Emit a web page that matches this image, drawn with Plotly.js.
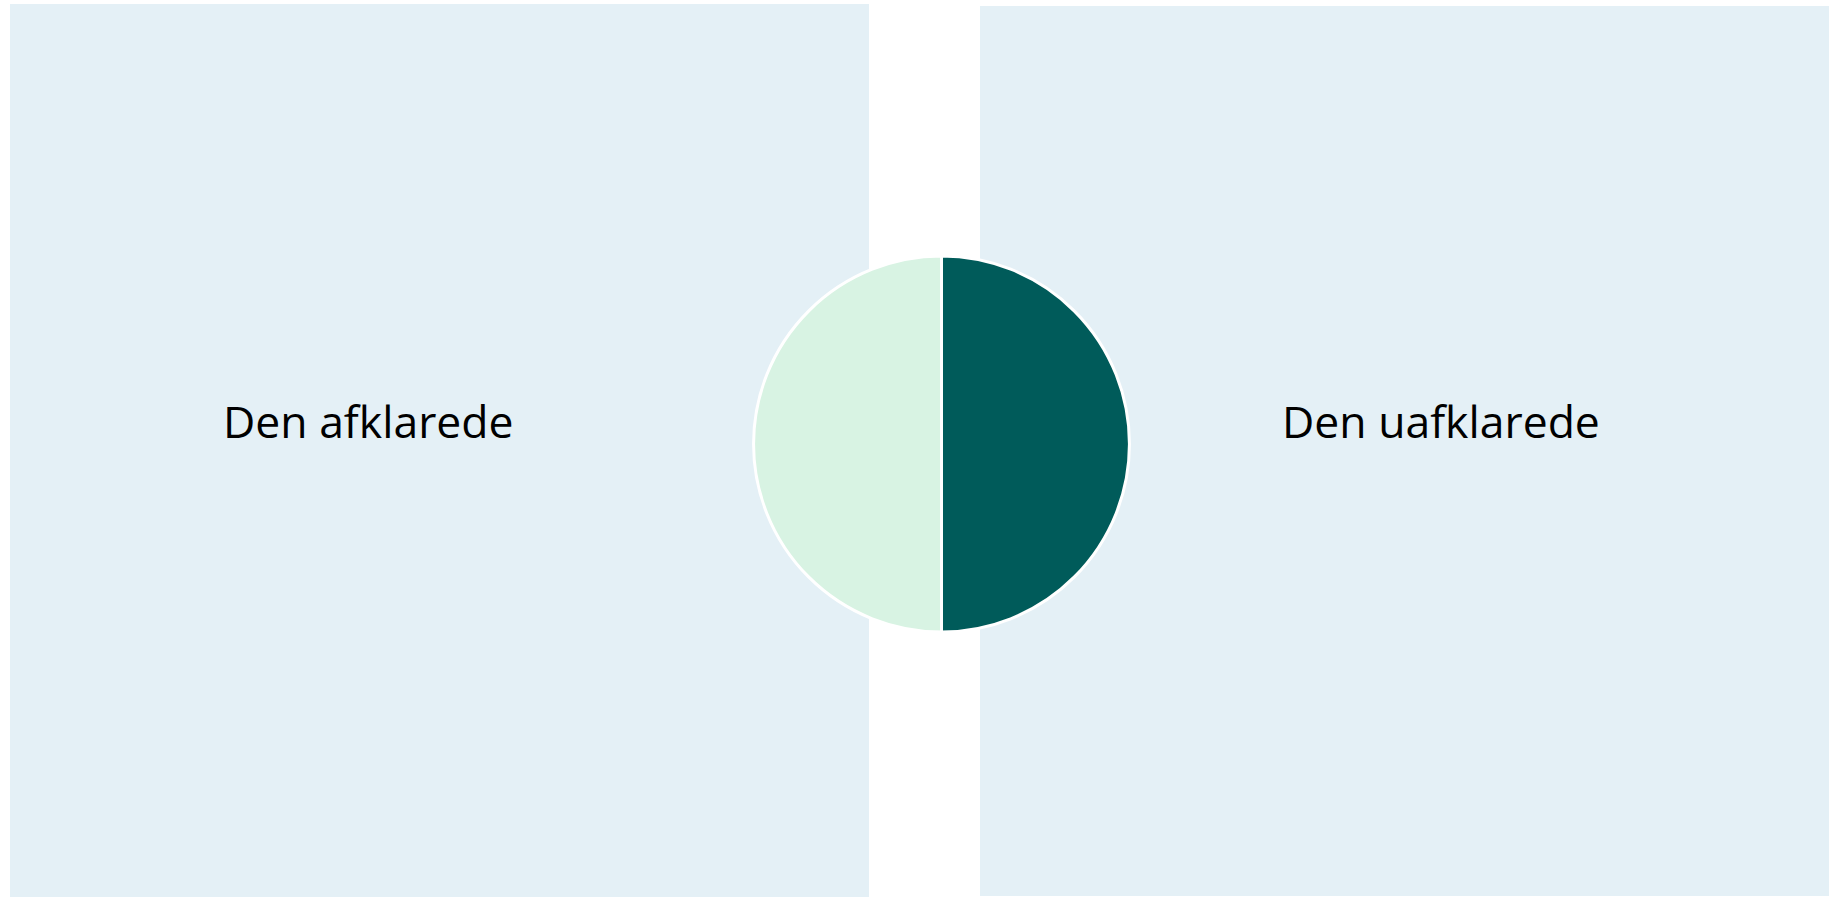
<!DOCTYPE html>
<html>
<head>
<meta charset="utf-8">
<script src="https://cdn.plot.ly/plotly-3.0.1.min.js"></script>
<style>html,body{margin:0;padding:0;background:#fff;}#chart{width:1829px;height:897px;}</style>
</head>
<body>
<div id="chart"></div>
<script>
const labels = ["Den uafklarede", "Den afklarede"];
const values = [50, 50];
const sliceColors = ["#005B5A", "#D8F3E3"];
const panelColor = "#E4F0F6";

const W = 1829, H = 897;
const px = v => v / W;
const py = v => 1 - v / H;

const cx = 941.5, cy = 444, r = 188;

const data = [{
  type: "pie",
  labels: labels,
  values: values,
  sort: false,
  direction: "clockwise",
  rotation: 0,
  textinfo: "none",
  hoverinfo: "label+percent",
  marker: { colors: sliceColors, line: { color: "#ffffff", width: 3 } },
  domain: { x: [px(cx - r), px(cx + r)], y: [py(cy + r), py(cy - r)] },
  showlegend: false
}];

const layout = {
  width: W, height: H,
  margin: { l: 0, r: 0, t: 0, b: 0 },
  paper_bgcolor: "#ffffff",
  plot_bgcolor: "#ffffff",
  showlegend: false,
  shapes: [
    { type: "rect", xref: "paper", yref: "paper", layer: "below",
      x0: px(10), x1: px(869), y0: py(897), y1: py(4),
      fillcolor: panelColor, line: { width: 0 } },
    { type: "rect", xref: "paper", yref: "paper", layer: "below",
      x0: px(980), x1: px(1829), y0: py(896), y1: py(6),
      fillcolor: panelColor, line: { width: 0 } }
  ],
  annotations: [
    { xref: "paper", yref: "paper", x: px(368.5), y: py(420), xanchor: "center", yanchor: "middle",
      text: labels[1], showarrow: false,
      font: { family: "Open Sans, Noto Sans, sans-serif", size: 44.5, color: "#000000" } },
    { xref: "paper", yref: "paper", x: px(1441), y: py(420), xanchor: "center", yanchor: "middle",
      text: labels[0], showarrow: false,
      font: { family: "Open Sans, Noto Sans, sans-serif", size: 44.5, color: "#000000" } }
  ]
};

Plotly.newPlot("chart", data, layout, { displayModeBar: false, staticPlot: true });
</script>
</body>
</html>
